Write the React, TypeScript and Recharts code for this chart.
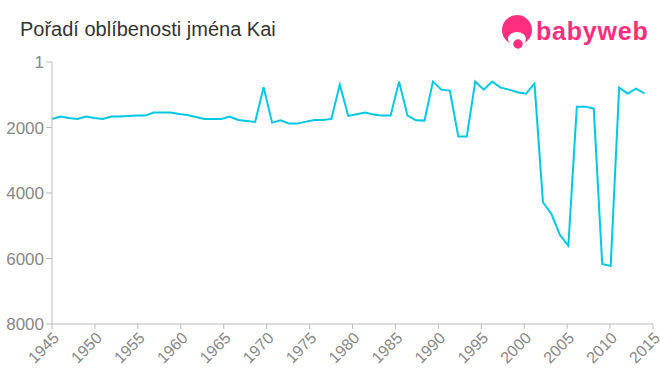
import { LineChart, Line, XAxis, YAxis } from "recharts"

const years = [
  1945, 1946, 1947, 1948, 1949, 1950, 1951, 1952, 1953, 1954,
  1955, 1956, 1957, 1958, 1959, 1960, 1961, 1962, 1963, 1964,
  1965, 1966, 1967, 1968, 1969, 1970, 1971, 1972, 1973, 1974,
  1975, 1976, 1977, 1978, 1979, 1980, 1981, 1982, 1983, 1984,
  1985, 1986, 1987, 1988, 1989, 1990, 1991, 1992, 1993, 1994,
  1995, 1996, 1997, 1998, 1999, 2000, 2001, 2002, 2003, 2004,
  2005, 2006, 2007, 2008, 2009, 2010, 2011, 2012, 2013, 2014,
  2015,
]

const ranks = [
  1740, 1668, 1710, 1740, 1668, 1710, 1740, 1668, 1668, 1648,
  1638, 1638, 1546, 1546, 1546, 1587, 1617, 1678, 1740, 1740,
  1740, 1668, 1770, 1800, 1831, 774, 1852, 1780, 1882, 1882,
  1821, 1770, 1770, 1740, 692, 1648, 1597, 1546, 1607, 1638,
  1638, 600, 1638, 1780, 1790, 600, 845, 875, 2279, 2279,
  600, 845, 600, 784, 845, 926, 967, 661, 4283, 4640,
  5281, 5607, 1364, 1364, 1425, 6166, 6227, 784, 967, 815,
  957,
]

const yearTicks = [1945, 1950, 1955, 1960, 1965, 1970, 1975, 1980, 1985, 1990, 1995, 2000, 2005, 2010, 2015]
const rankTicks = [1, 2000, 4000, 6000, 8000]

const data = years.map((year, i) => ({ year, rank: ranks[i] }))

const font = "Liberation Sans, Arial, sans-serif"
const tickStyle = { fill: "#888888", fontSize: 16, fontFamily: font }

const Logo = () => (
  <svg width={170} height={45} style={{ position: "absolute", left: 495, top: 12 }}>
    <circle cx={22} cy={18} r={15} fill="#ff2e7e" />
    <ellipse cx={22} cy={27} rx={9} ry={7} fill="#ffffff" />
    <circle cx={23} cy={32} r={5.5} fill="#ff2e7e" stroke="#ffffff" strokeWidth={1.5} />
    <text x={41} y={28} fill="#ff2e7e" fontSize={25} fontWeight="bold" letterSpacing={0.8} fontFamily={font}>
      babyweb
    </text>
  </svg>
)

export default function App() {
  return (
    <div style={{ position: "absolute", left: 0, top: 0, width: 660, height: 375, background: "#fff" }}>
      <div
        style={{
          position: "absolute",
          left: 20,
          top: 18,
          fontSize: 20,
          color: "#333333",
          fontFamily: font,
        }}
      >
        Pořadí oblíbenosti jména Kai
      </div>
      <Logo />
      <LineChart width={660} height={375} data={data} margin={{ top: 62, right: 7, left: 0, bottom: 6 }}>
        <XAxis xAxisId="data" dataKey="year" type="number" domain={[1945, 2016]} height={0} hide />
        <XAxis
          xAxisId="ticks"
          dataKey="year"
          type="number"
          domain={[1945, 2015]}
          ticks={yearTicks}
          allowDataOverflow
          interval={0}
          height={45}
          stroke="#bbbbbb"
          tickSize={5}
          angle={-45}
          textAnchor="end"
          tick={tickStyle}
        />
        <YAxis
          reversed
          domain={[1, 8000]}
          ticks={rankTicks}
          interval={0}
          width={52}
          stroke="#bbbbbb"
          tickSize={6}
          tick={{ ...tickStyle, fontSize: 17 }}
        />
        <Line
          xAxisId="data"
          type="linear"
          dataKey="rank"
          stroke="#00c8e3"
          strokeWidth={2}
          dot={false}
          isAnimationActive={false}
        />
      </LineChart>
    </div>
  )
}
